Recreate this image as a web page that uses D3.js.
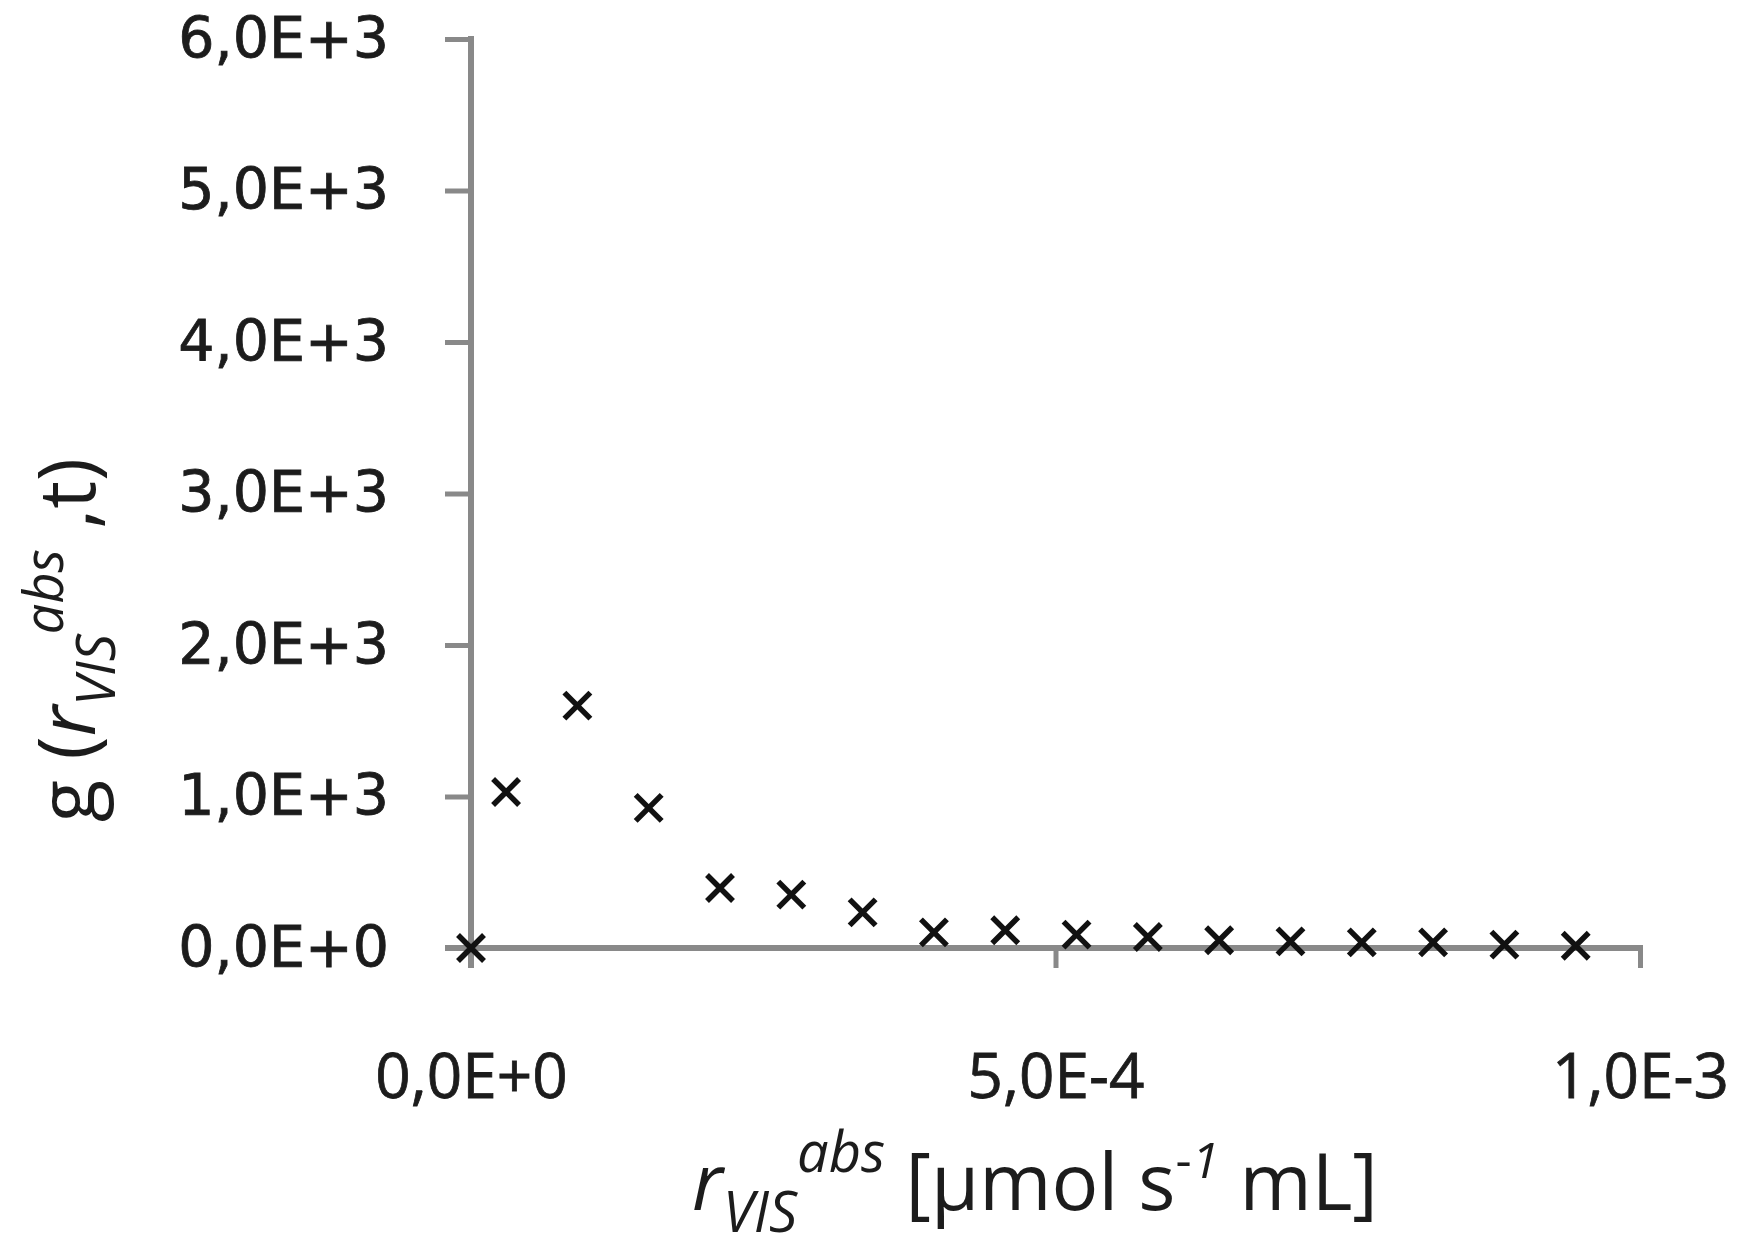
<!DOCTYPE html>
<html>
<head>
<meta charset="utf-8">
<script src="https://cdn.jsdelivr.net/npm/d3@7"></script>
<style>
  body { margin: 0; background: #fff; }
  svg { display: block; }
</style>
</head>
<body>
<svg width="1744" height="1257"></svg>
<script>
// values
var rAbs = [0, 3.0e-5, 9.1e-5, 1.52e-4, 2.13e-4, 2.74e-4, 3.35e-4, 3.96e-4, 4.57e-4,
            5.18e-4, 5.79e-4, 6.40e-4, 7.01e-4, 7.62e-4, 8.23e-4, 8.84e-4, 9.45e-4];
var gVal = [0, 1030, 1600, 925, 396, 352, 235, 103, 117, 88, 73, 51, 44, 37, 37, 22, 15];
var xTicks = [0, 5e-4, 1e-3];
var xTickLabels = ["0,0E+0", "5,0E-4", "1,0E-3"];
var yTicks = [0, 1000, 2000, 3000, 4000, 5000, 6000];
var yTickLabels = ["0,0E+0", "1,0E+3", "2,0E+3", "3,0E+3", "4,0E+3", "5,0E+3", "6,0E+3"];

var svg = d3.select("svg");
var axisColor = "#898989";
var textColor = "#1c1c1c";

var x = d3.scaleLinear().domain([0, 1e-3]).range([471, 1640]);
var y = d3.scaleLinear().domain([0, 6000]).range([948, 39]);

// y axis
var yAxis = svg.append("g")
    .attr("transform", "translate(" + x(0) + ",0)")
    .call(d3.axisLeft(y).tickValues(yTicks).tickSize(26).tickPadding(56)
        .tickFormat(function (d, i) { return yTickLabels[i]; }));
yAxis.select(".domain").remove();
yAxis.append("line")
    .attr("x1", 0).attr("x2", 0)
    .attr("y1", y(6000) - 3).attr("y2", y(0) + 20)
    .attr("stroke", axisColor).attr("stroke-width", 6);
yAxis.selectAll(".tick line").attr("stroke", axisColor).attr("stroke-width", 5);
yAxis.selectAll(".tick text")
    .attr("fill", textColor)
    .attr("stroke", textColor).attr("stroke-width", 0.8)
    .attr("font-family", "DejaVu Sans")
    .attr("font-size", 57);

// x axis
var xAxis = svg.append("g")
    .attr("transform", "translate(0," + y(0) + ")")
    .call(d3.axisBottom(x).tickValues(xTicks).tickSize(20).tickPadding(86)
        .tickFormat(function (d, i) { return xTickLabels[i]; }));
xAxis.select(".domain").remove();
xAxis.append("line")
    .attr("x1", x(0) - 26).attr("x2", x(1e-3) + 3)
    .attr("y1", 0).attr("y2", 0)
    .attr("stroke", axisColor).attr("stroke-width", 6);
xAxis.selectAll(".tick line").attr("stroke", axisColor).attr("stroke-width", 5);
xAxis.selectAll(".tick text")
    .attr("fill", textColor)
    .attr("stroke", textColor).attr("stroke-width", 0.8)
    .attr("font-family", "Open Sans")
    .attr("font-size", 62);

// markers
var s = 13;
svg.append("g").selectAll("path")
    .data(rAbs.map(function (d, i) { return [d, gVal[i]]; }))
    .enter().append("path")
    .attr("d", function (d) {
        var cx = x(d[0]), cy = y(d[1]);
        return "M" + (cx - s) + "," + (cy - s) + "L" + (cx + s) + "," + (cy + s) +
            "M" + (cx - s) + "," + (cy + s) + "L" + (cx + s) + "," + (cy - s);
    })
    .attr("stroke", "#111")
    .attr("stroke-width", 5.5)
    .attr("fill", "none");

// x title
var xt = svg.append("text")
    .attr("x", 1035).attr("y", 1210)
    .attr("text-anchor", "middle")
    .attr("font-family", "Open Sans")
    .attr("font-size", 78)
    .attr("fill", textColor);
xt.append("tspan").attr("font-style", "italic").text("r");
xt.append("tspan").attr("font-style", "italic").attr("font-size", 56).attr("dy", 22).text("VIS");
xt.append("tspan").attr("font-style", "italic").attr("font-size", 56).attr("dy", -60).text("abs");
xt.append("tspan").attr("dy", 38).text(" [µmol s");
xt.append("tspan").attr("font-size", 50).attr("dy", -32).text("-");
xt.append("tspan").attr("font-style", "italic").attr("font-size", 50).text("1");
xt.append("tspan").attr("dy", 32).text(" mL]");

// y title
var yt = svg.append("text")
    .attr("transform", "translate(95,640) rotate(-90)")
    .attr("text-anchor", "middle")
    .attr("font-family", "Open Sans")
    .attr("font-size", 78)
    .attr("fill", textColor);
yt.append("tspan").text("g (");
yt.append("tspan").attr("font-style", "italic").text("r");
yt.append("tspan").attr("font-style", "italic").attr("font-size", 54).attr("dy", 20).text("VIS");
yt.append("tspan").attr("font-style", "italic").attr("font-size", 54).attr("dy", -52).text("abs");
yt.append("tspan").attr("dy", 32).text(" ,t)");
</script>
</body>
</html>
